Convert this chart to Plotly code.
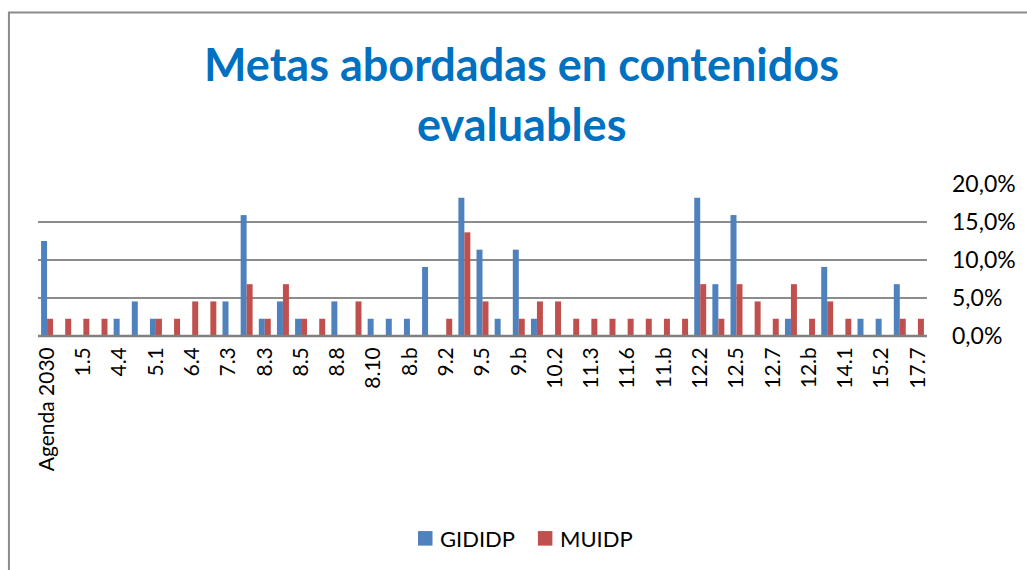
import plotly.graph_objects as go

categories = ["Agenda 2030", "1.4", "1.5", "4.3", "4.4", "4.7", "5.1", "5.5", "6.4", "7.2",
              "7.3", "8.2", "8.3", "8.4", "8.5", "8.6", "8.8", "8.9", "8.10", "8.a",
              "8.b", "9.1", "9.2", "9.4", "9.5", "9.a", "9.b", "10.1", "10.2", "11.2",
              "11.3", "11.4", "11.6", "11.a", "11.b", "12.1", "12.2", "12.4", "12.5", "12.6",
              "12.7", "12.8", "12.b", "13.2", "14.1", "15.1", "15.2", "17.6", "17.7"]

gididp = [12.5, 0, 0, 0, 2.27, 4.55, 2.27, 0, 0, 0,
          4.55, 15.91, 2.27, 4.55, 2.27, 0, 4.55, 0, 2.27, 2.27,
          2.27, 9.09, 0, 18.18, 11.36, 2.27, 11.36, 2.27, 0, 0,
          0, 0, 0, 0, 0, 0, 18.18, 6.82, 15.91, 0,
          0, 2.27, 0, 9.09, 0, 2.27, 2.27, 6.82, 0]

muidp = [2.27, 2.27, 2.27, 2.27, 0, 0, 2.27, 2.27, 4.55, 4.55,
         0, 6.82, 2.27, 6.82, 2.27, 2.27, 0, 4.55, 0, 0,
         0, 0, 2.27, 13.64, 4.55, 0, 2.27, 4.55, 4.55, 2.27,
         2.27, 2.27, 2.27, 2.27, 2.27, 2.27, 6.82, 2.27, 6.82, 4.55,
         2.27, 6.82, 2.27, 4.55, 2.27, 0, 0, 2.27, 2.27]

series_names = ["GIDIDP", "MUIDP"]
y_ticks = [0, 5, 10, 15, 20]
y_ticktext = ["0,0%", "5,0%", "10,0%", "15,0%", "20,0%"]

FONT = "Lato"
BLUE, RED = "#4F81BD", "#C0504D"

fig = go.Figure()
fig.add_trace(go.Bar(x=categories, y=gididp, name=series_names[0], showlegend=False,
                     marker=dict(color=BLUE, line=dict(width=0))))
fig.add_trace(go.Bar(x=categories, y=muidp, name=series_names[1], showlegend=False,
                     marker=dict(color=RED, line=dict(width=0))))

L, R, T, B = 37.6, 927.5, 184.3, 335.7
W, H = 1027, 570
pw, ph = R - L, B - T

def px(x):
    return (x - L) / pw

def py(y):
    return (B - y) / ph

# manual legend (swatch + label)
legend_items = [(series_names[0], BLUE, 418), (series_names[1], RED, 538)]
legend_shapes, legend_annots = [], []
for name, col, x0 in legend_items:
    legend_shapes.append(dict(type="rect", xref="paper", yref="paper",
                              x0=px(x0), x1=px(x0 + 14.5), y0=py(544.5), y1=py(530),
                              fillcolor=col, line=dict(width=0)))
    legend_annots.append(dict(text=name, xref="paper", yref="paper",
                              x=px(x0 + 20), y=py(537.5), xanchor="left", yanchor="middle",
                              showarrow=False,
                              font=dict(size=22, family=FONT, color="black")))

fig.update_layout(
    width=W, height=H,
    margin=dict(l=L, r=W - R, t=T, b=H - B, autoexpand=False),
    paper_bgcolor="white", plot_bgcolor="white",
    barmode="group", bargap=0.34, bargroupgap=0,
    font=dict(family=FONT, color="black"),
    showlegend=False,
    xaxis=dict(type="category", tickmode="array", tickvals=categories[::2],
               ticktext=categories[::2], tickangle=-90, ticks="",
               tickfont=dict(size=21, family=FONT, color="black"),
               showgrid=False, showline=False, zeroline=False,
               ticklabelstandoff=6, range=[-0.5, len(categories) - 0.5]),
    yaxis=dict(side="right", range=[0, 20], tickmode="array", tickvals=y_ticks,
               ticktext=y_ticktext, tickfont=dict(size=23, family=FONT, color="black"),
               showgrid=True, gridcolor="#8c8c8c", gridwidth=1.7,
               zeroline=False, showline=False, ticks="", ticklabelstandoff=24),
    annotations=[
        dict(text="<b>Metas abordadas en contenidos</b>", xref="paper", yref="paper",
             x=px(521.5), y=py(65), xanchor="center", yanchor="middle", showarrow=False,
             font=dict(size=45, family=FONT, color="#0070C0")),
        dict(text="<b>evaluables</b>", xref="paper", yref="paper",
             x=px(521.5), y=py(125), xanchor="center", yanchor="middle", showarrow=False,
             font=dict(size=45, family=FONT, color="#0070C0")),
    ] + legend_annots,
    shapes=[
        dict(type="line", xref="paper", yref="paper", x0=0, x1=1, y0=0, y1=0,
             line=dict(color="#808080", width=2.5)),
        dict(type="rect", xref="paper", yref="paper", x0=px(8.5), x1=px(1100),
             y0=py(700), y1=py(13.5), line=dict(color="#8a8a8a", width=2),
             fillcolor="rgba(0,0,0,0)", layer="above"),
    ] + legend_shapes,
)

fig.write_html("out.html", config={"displayModeBar": False},
               post_script="document.body.style.margin='0';document.body.style.overflow='hidden';")
